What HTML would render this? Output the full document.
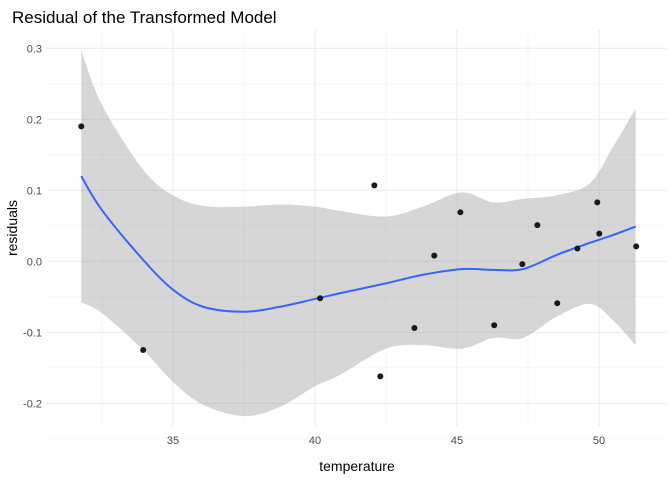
<!DOCTYPE html>
<html><head><meta charset="utf-8">
<style>
body{margin:0;background:#fff;}
svg{display:block;font-family:"Liberation Sans",Arial,sans-serif;}
</style></head>
<body>
<svg id="chart" width="672" height="480">
  <text x="12" y="23" font-size="17" fill="#000">Residual of the Transformed Model</text>
  <g id="grid"></g>
  <g id="band"></g>
  <g id="line"></g>
  <g id="points"></g>
  <g id="ticks"></g>
  <text x="357" y="471" font-size="14" text-anchor="middle" fill="#000">temperature</text>
  <text transform="translate(17,228) rotate(-90)" font-size="14" text-anchor="middle" fill="#000">residuals</text>
</svg>
<script>
const pointX=[31.77,33.95,40.18,42.09,42.30,43.50,44.20,45.12,46.31,47.30,47.83,48.53,49.24,49.94,50.01,51.31];
const pointY=[0.190,-0.125,-0.052,0.107,-0.162,-0.094,0.008,0.069,-0.090,-0.004,0.051,-0.059,0.018,0.083,0.039,0.021];
const smoothX=[31.77,32.5,33.95,35,36.06,37.5,38.77,40,40.88,42.5,43.8,45.17,46.27,47.32,48.51,49.68,50.49,51.29];
const smoothFit=[0.120,0.072,0.002,-0.040,-0.064,-0.071,-0.064,-0.053,-0.045,-0.031,-0.019,-0.011,-0.012,-0.011,0.009,0.026,0.037,0.049];
const smoothLo=[-0.058,-0.073,-0.125,-0.170,-0.202,-0.218,-0.205,-0.176,-0.160,-0.123,-0.118,-0.123,-0.108,-0.108,-0.078,-0.060,-0.083,-0.118];
const smoothHi=[0.297,0.220,0.129,0.093,0.078,0.077,0.080,0.077,0.071,0.063,0.077,0.097,0.083,0.088,0.093,0.110,0.161,0.215];
const xTicks=[35,40,45,50];
const xMinor=[32.5,37.5,42.5,47.5];
const yTicks=[-0.2,-0.1,0.0,0.1,0.2,0.3];
const yTickLabels=["-0.2","-0.1","0.0","0.1","0.2","0.3"];
const yMinor=[-0.25,-0.15,-0.05,0.05,0.15,0.25];

const NS="http://www.w3.org/2000/svg";
const X=v=>173+(v-35)*28.4;
const Y=v=>261.3-v*710;
const L=47,R=667,T=30,B=426;
function mk(tag,attrs,parent){const e=document.createElementNS(NS,tag);for(const k in attrs)e.setAttribute(k,attrs[k]);document.getElementById(parent).appendChild(e);return e;}
function spline(pts,start){
  let d=start?'M'+pts[0][0]+','+pts[0][1]:'L'+pts[0][0]+','+pts[0][1];
  for(let i=0;i<pts.length-1;i++){
    const p0=pts[Math.max(0,i-1)],p1=pts[i],p2=pts[i+1],p3=pts[Math.min(pts.length-1,i+2)];
    const c1=[p1[0]+(p2[0]-p0[0])/6,p1[1]+(p2[1]-p0[1])/6];
    const c2=[p2[0]-(p3[0]-p1[0])/6,p2[1]-(p3[1]-p1[1])/6];
    d+='C'+c1[0]+','+c1[1]+' '+c2[0]+','+c2[1]+' '+p2[0]+','+p2[1];
  }
  return d;
}

yMinor.forEach(v=>{const e=mk('line',{x1:L,x2:R,y1:Y(v),y2:Y(v),stroke:'#f0f0f0','stroke-width':0.6},'grid');

});
xMinor.forEach(v=>{const e=mk('line',{x1:X(v),x2:X(v),y1:T,y2:B,stroke:'#f0f0f0','stroke-width':0.6},'grid');

});
yTicks.forEach((v,i)=>{const e=mk('line',{x1:L,x2:R,y1:Y(v),y2:Y(v),stroke:'#ebebeb','stroke-width':1.1},'grid');


const t=mk('text',{x:42,y:Y(v)+4,'font-size':11,'text-anchor':'end',fill:'#4d4d4d'},'ticks');t.textContent=yTickLabels[i];

});
xTicks.forEach(v=>{const e=mk('line',{x1:X(v),x2:X(v),y1:T,y2:B,stroke:'#ebebeb','stroke-width':1.1},'grid');


const t=mk('text',{x:X(v),y:444,'font-size':11,'text-anchor':'middle',fill:'#4d4d4d'},'ticks');t.textContent=String(v);

});

const hiPts=smoothX.map((x,i)=>[X(x),Y(smoothHi[i])]);
const loPts=smoothX.map((x,i)=>[X(x),Y(smoothLo[i])]).reverse();
const band=mk('path',{d:spline(hiPts,true)+spline(loPts,false)+'Z',fill:'#999','fill-opacity':0.4},'band');



const fitPts=smoothX.map((x,i)=>[X(x),Y(smoothFit[i])]);
const pl=mk('path',{d:spline(fitPts,true),fill:'none',stroke:'#3366ff','stroke-width':2},'line');



pointX.forEach((x,i)=>{const c=mk('circle',{cx:X(x),cy:Y(pointY[i]),r:3,fill:'#1a1a1a'},'points');

});
</script>
</body></html>
